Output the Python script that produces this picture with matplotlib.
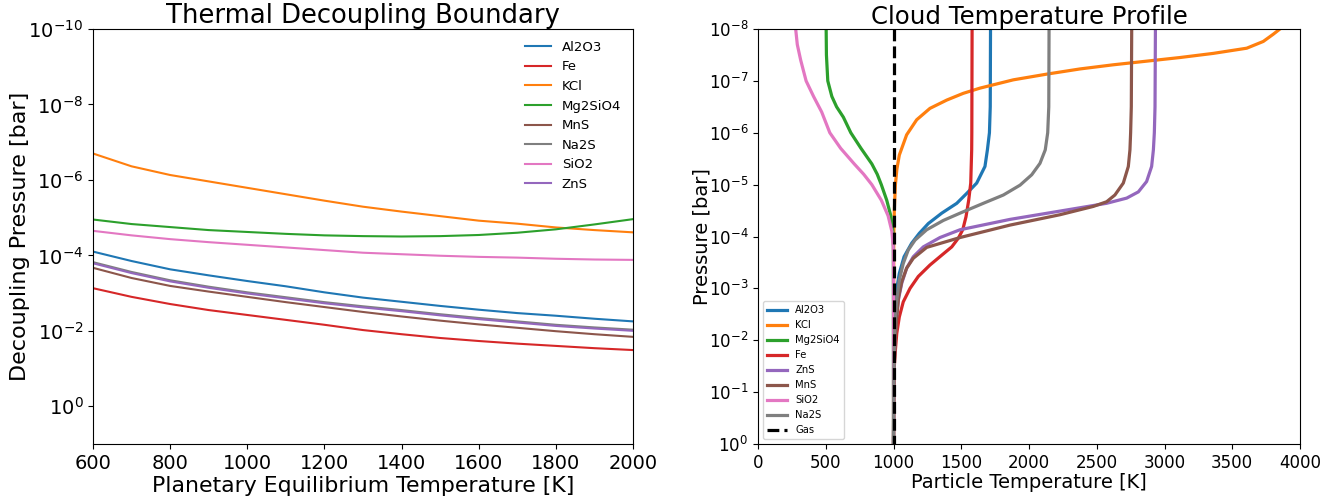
import numpy as np
import matplotlib
matplotlib.use("Agg")
import matplotlib.pyplot as plt

# ---------------- Left panel data ----------------
teq = [600, 700, 800, 900, 1000, 1100, 1200, 1300, 1400, 1500, 1600, 1700, 1800, 1900, 2000]
logp_al2o3 = [-4.10, -3.85, -3.63, -3.47, -3.32, -3.18, -3.02, -2.88, -2.77, -2.66, -2.56, -2.47, -2.40, -2.32, -2.25]
logp_fe = [-3.13, -2.90, -2.71, -2.55, -2.42, -2.29, -2.16, -2.02, -1.91, -1.81, -1.73, -1.66, -1.60, -1.54, -1.49]
logp_kcl = [-6.70, -6.36, -6.13, -5.96, -5.79, -5.62, -5.45, -5.29, -5.16, -5.04, -4.92, -4.84, -4.74, -4.67, -4.61]
logp_mg2sio4 = [-4.95, -4.83, -4.75, -4.67, -4.62, -4.57, -4.53, -4.51, -4.50, -4.51, -4.54, -4.60, -4.69, -4.82, -4.96]
logp_mns = [-3.67, -3.40, -3.19, -3.04, -2.90, -2.76, -2.63, -2.50, -2.38, -2.27, -2.17, -2.08, -1.99, -1.91, -1.84]
logp_na2s = [-3.82, -3.56, -3.34, -3.17, -3.02, -2.89, -2.76, -2.65, -2.55, -2.44, -2.34, -2.25, -2.16, -2.09, -2.03]
logp_sio2 = [-4.65, -4.53, -4.43, -4.35, -4.28, -4.21, -4.14, -4.07, -4.03, -3.99, -3.96, -3.94, -3.91, -3.89, -3.88]
logp_zns = [-3.79, -3.53, -3.31, -3.14, -2.99, -2.86, -2.73, -2.62, -2.52, -2.41, -2.31, -2.22, -2.13, -2.06, -2.00]

left_names = ["Al2O3", "Fe", "KCl", "Mg2SiO4", "MnS", "Na2S", "SiO2", "ZnS"]
left_series = [logp_al2o3, logp_fe, logp_kcl, logp_mg2sio4, logp_mns, logp_na2s, logp_sio2, logp_zns]
left_colors = ["#1f77b4", "#d62728", "#ff7f0e", "#2ca02c", "#8c564b", "#7f7f7f", "#e377c2", "#9467bd"]

# ---------------- Right panel data ----------------
# log10 pressure [bar] and particle temperature [K]
al2o3_lp = [-8.0, -6.5, -6.0, -5.67, -5.35, -5.03, -4.83, -4.64, -4.45, -4.25, -4.06, -3.87, -3.61, -3.29, -2.90, -2.58, -2.0, 0.0]
al2o3_t = [1716, 1714, 1708, 1693, 1675, 1614, 1540, 1467, 1356, 1257, 1190, 1134, 1078, 1043, 1018, 1008, 1002, 1000]

kcl_lp = [-8.0, -7.90, -7.76, -7.63, -7.53, -7.45, -7.38, -7.31, -7.23, -7.13, -7.02, -6.86, -6.76, -6.63, -6.47, -6.25, -5.96, -5.57, -5.3, -5.0, -4.5, -4.0, 0.0]
kcl_t = [3852, 3803, 3729, 3607, 3360, 3114, 2868, 2622, 2376, 2131, 1884, 1638, 1515, 1393, 1269, 1171, 1097, 1043, 1025, 1014, 1006, 1002, 1000]

mg2sio4_lp = [-8.0, -7.5, -7.0, -6.7, -6.5, -6.3, -6.0, -5.7, -5.4, -5.2, -5.0, -4.7, -4.4, -4.1, -3.8, 0.0]
mg2sio4_t = [503, 505, 515, 545, 580, 630, 685, 760, 840, 880, 910, 950, 980, 995, 999, 1000]

fe_lp = [-8.0, -6.0, -5.67, -5.03, -4.70, -4.38, -4.13, -3.97, -3.80, -3.64, -3.45, -3.23, -3.00, -2.74, -2.45, -2.13, -1.81, -1.5, -1.0, 0.0]
fe_t = [1580, 1578, 1577, 1570, 1555, 1535, 1511, 1479, 1430, 1356, 1269, 1183, 1122, 1072, 1043, 1024, 1014, 1006, 1002, 1000]

zns_lp = [-8.0, -6.5, -6.0, -5.67, -5.35, -5.06, -4.86, -4.74, -4.64, -4.49, -4.33, -4.13, -3.98, -3.80, -3.61, -3.39, -3.10, -2.78, -2.33, -1.8, -1.2, 0.0]
zns_t = [2933, 2930, 2925, 2918, 2905, 2868, 2807, 2721, 2573, 2229, 1860, 1491, 1343, 1220, 1146, 1097, 1061, 1036, 1018, 1008, 1002, 1000]

mns_lp = [-8.0, -6.5, -6.0, -5.67, -5.35, -5.03, -4.80, -4.67, -4.58, -4.42, -4.22, -3.98, -3.79, -3.58, -3.39, -3.13, -2.84, -2.45, -2.07, -1.5, 0.0]
mns_t = [2758, 2755, 2750, 2745, 2733, 2696, 2634, 2573, 2475, 2229, 1860, 1491, 1245, 1146, 1097, 1061, 1038, 1024, 1014, 1005, 1000]

sio2_lp = [-8.0, -7.7, -7.4, -7.0, -6.7, -6.4, -6.0, -5.7, -5.4, -5.2, -5.0, -4.7, -4.4, -4.1, -3.8, -3.4, 0.0]
sio2_t = [278, 290, 315, 355, 410, 470, 530, 610, 710, 780, 840, 910, 960, 988, 998, 1000, 1000]

na2s_lp = [-8.0, -6.5, -6.0, -5.67, -5.41, -5.19, -4.99, -4.80, -4.64, -4.45, -4.31, -4.13, -3.93, -3.74, -3.48, -3.16, -2.78, -2.33, -1.8, -1.2, 0.0]
na2s_t = [2148, 2146, 2138, 2120, 2081, 2020, 1934, 1811, 1663, 1491, 1368, 1245, 1159, 1109, 1072, 1043, 1024, 1011, 1005, 1002, 1000]

gas_lp = [-8.0, 0.0]
gas_t = [1000, 1000]

right_names = ["Al2O3", "KCl", "Mg2SiO4", "Fe", "ZnS", "MnS", "SiO2", "Na2S"]
right_lp = [al2o3_lp, kcl_lp, mg2sio4_lp, fe_lp, zns_lp, mns_lp, sio2_lp, na2s_lp]
right_t = [al2o3_t, kcl_t, mg2sio4_t, fe_t, zns_t, mns_t, sio2_t, na2s_t]
right_colors = ["#1f77b4", "#ff7f0e", "#2ca02c", "#d62728", "#9467bd", "#8c564b", "#e377c2", "#7f7f7f"]

# ---------------- Figure ----------------
fig = plt.figure(figsize=(13.37, 4.99), dpi=100)
W, H = 1337, 499
ax1 = fig.add_axes([93 / W, 1 - 444 / H, (633 - 93) / W, (444 - 29) / H])
ax2 = fig.add_axes([758 / W, 1 - 444 / H, (1300 - 758) / W, (444 - 29) / H])

for name, lp, c in zip(left_names, left_series, left_colors):
    ax1.plot(teq, 10.0 ** np.array(lp), color=c, lw=1.5, label=name)
ax1.set_yscale("log")
ax1.set_ylim(1e1, 1e-10)
ax1.set_xlim(600, 2000)
ax1.set_yticks([1e-10, 1e-8, 1e-6, 1e-4, 1e-2, 1e0])
ax1.minorticks_off()
ax1.set_xticks([600, 800, 1000, 1200, 1400, 1600, 1800, 2000])
ax1.tick_params(labelsize=14)
ax1.set_title("Thermal Decoupling Boundary", fontsize=18.6, pad=3)
ax1.set_xlabel("Planetary Equilibrium Temperature [K]", fontsize=15.8, labelpad=2)
ax1.set_ylabel("Decoupling Pressure [bar]", fontsize=16, labelpad=-1)
ax1.legend(loc="upper right", frameon=False, fontsize=9.5)

for name, lp, t, c in zip(right_names, right_lp, right_t, right_colors):
    ax2.plot(t, 10.0 ** np.array(lp), color=c, lw=2.3, label=name)
ax2.plot(gas_t, 10.0 ** np.array(gas_lp), color="black", ls="--", lw=2.3, label="Gas")
ax2.set_yscale("log")
ax2.set_ylim(1e0, 1e-8)
ax2.set_xlim(0, 4000)
ax2.set_yticks([10.0 ** k for k in range(-8, 1)])
ax2.minorticks_off()
ax2.tick_params(labelsize=12)
ax2.set_title("Cloud Temperature Profile", fontsize=17.6, pad=3)
ax2.set_xlabel("Particle Temperature [K]", fontsize=14, labelpad=1)
ax2.set_ylabel("Pressure [bar]", fontsize=14, labelpad=-2)
ax2.legend(loc="lower left", fontsize=7.2)

fig.savefig("out.png", dpi=100)
